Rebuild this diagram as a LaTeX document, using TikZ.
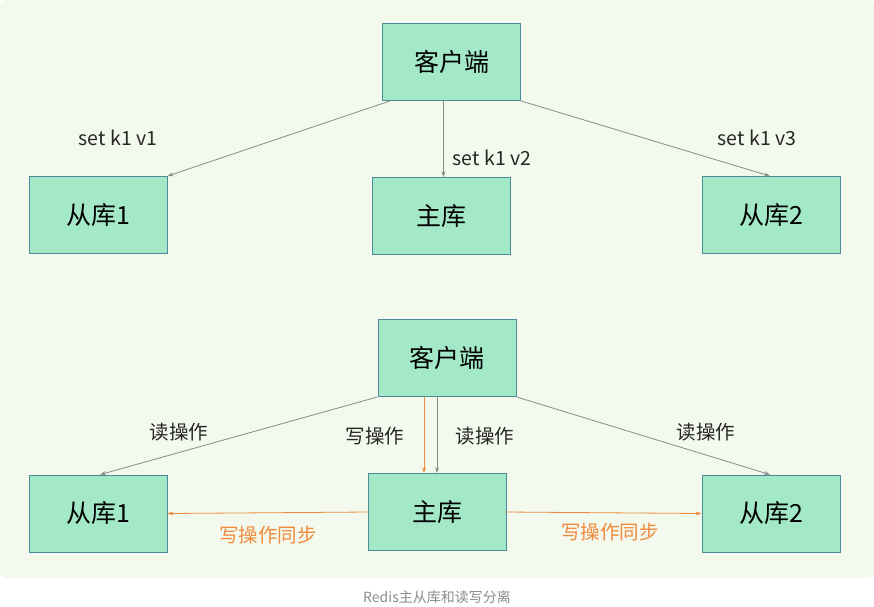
\documentclass[tikz,border=0pt]{standalone}
\usepackage{fontspec}
\usetikzlibrary{arrows.meta}
\setmainfont{Noto Sans CJK SC}
\begin{document}
\begin{tikzpicture}[x=1pt,y=-1pt,
 box/.style={draw=boxline,fill=boxfill,line width=0.8pt,minimum width=138pt,minimum height=77pt,font=\fontsize{25}{27}\selectfont,inner sep=0pt},
 conn/.style={draw=arrgray,line width=0.8pt,-{Stealth[length=6pt,width=4pt]}},
 oconn/.style={draw=orng,line width=0.8pt,-{Stealth[length=6pt,width=4pt]}},
 lbl/.style={font=\fontsize{19.5}{21}\selectfont,text=black!85},
 olbl/.style={font=\fontsize{19.5}{21}\selectfont,text=orng}]
\definecolor{boxfill}{HTML}{A3E9C8}
\definecolor{boxline}{HTML}{4D8A9C}
\definecolor{arrgray}{HTML}{8A8A8A}
\definecolor{orng}{HTML}{F08A3C}
\definecolor{bg}{HTML}{F3F9EC}
\useasboundingbox (0,0) rectangle (874,606);
\fill[bg,rounded corners=6pt] (0,0) rectangle (874,578);
\node[box] (c1) at (451.5,62) {客户端};
\node[box] (s1) at (98,215) {从库1};
\node[box] (m1) at (441.5,216) {主库};
\node[box] (s2) at (771,215) {从库2};
\node[box] (c2) at (447,358) {客户端};
\node[box] (s3) at (98,513.5) {从库1};
\node[box] (m2) at (437.5,512) {主库};
\node[box] (s4) at (771,513.5) {从库2};
\draw[conn] ([xshift=8pt]c1.south west) -- (s1.north east);
\draw[conn] ([xshift=-8pt]c1.south) -- ([xshift=-8pt]c1.south|-m1.north);
\draw[conn] (c1.south east) -- ([xshift=-1pt]s2.north);
\node[lbl] at (118,138) {set k1 v1};
\node[lbl] at (492,158) {set k1 v2};
\node[lbl] at (757,138) {set k1 v3};
\draw[conn] (c2.south west) -- ([xshift=2pt]s3.north);
\coordinate (g) at ([xshift=-10pt]c2.south);
\coordinate (o) at ([xshift=-23pt]c2.south);
\draw[conn] (g) -- (g|-m2.north);
\draw[oconn] (o) -- (o|-m2.north);
\draw[conn] (c2.south east) -- ([xshift=-1pt]s4.north);
\draw[oconn] (m2.west) -- (s3.east);
\draw[oconn] (m2.east) -- (s4.west);
\node[lbl] at (179,432) {读操作};
\node[lbl] at (375,436) {写操作};
\node[lbl] at (485,436) {读操作};
\node[lbl] at (706,432) {读操作};
\node[olbl] at (268,535) {写操作同步};
\node[olbl] at (610,532) {写操作同步};
\node[font=\fontsize{14}{16}\selectfont,text=black!45] at (437,597) {Redis主从库和读写分离};
\end{tikzpicture}
\end{document}
